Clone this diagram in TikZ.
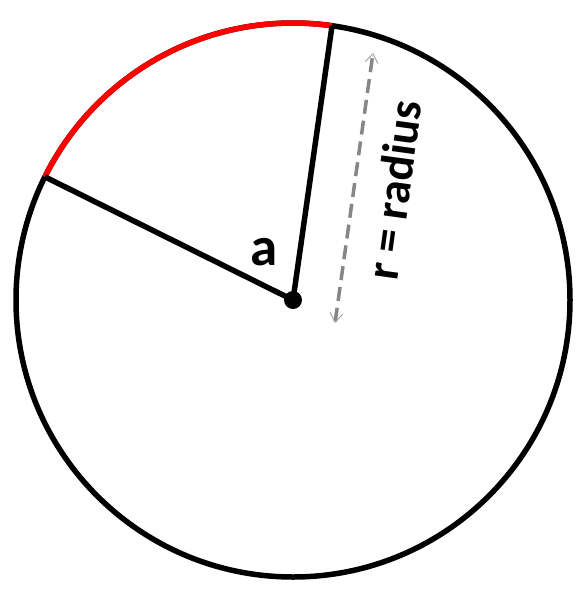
\documentclass[tikz,border=0pt]{standalone}
\usepackage{fontspec}
\setmainfont{Carlito}
\usetikzlibrary{arrows.meta,calc}
\begin{document}
\begin{tikzpicture}[x=1pt,y=-1pt,
  thick line/.style={line width=5.5pt,black},
  radarrow/.style={line width=3.5pt,gray!95,dash pattern=on 14pt off 7pt,
    {Straight Barb[length=9pt,width=13pt,line width=1pt,gray!70]}-{Straight Barb[length=9pt,width=13pt,line width=1pt,gray!70]}},
  lbl/.style={font=\fontsize{47}{54}\selectfont\bfseries},
  albl/.style={font=\fontsize{55}{60}\selectfont\bfseries}]
\useasboundingbox (0,0) rectangle (584,592);
\fill[white] (0,0) rectangle (584,592);
\coordinate (O) at (293,300);
\draw[thick line] (O) circle[radius=277];
\draw[line width=5.5pt,red] (O) ++(-81.9:277) arc[start angle=-81.9,end angle=-153.6,radius=277];
\coordinate (A) at ($(O)+(-81.9:277)$);
\coordinate (B) at ($(O)+(-153.6:277)$);
\draw[thick line] (B) -- (O) -- (A);
\fill (O) circle[radius=9];
\coordinate (P1) at (373,53);
\coordinate (P2) at (335,323);
\draw[radarrow] (P2) -- (P1);
\node[lbl,rotate=82.2,inner sep=0pt] (rlab) at (394,190) {r = radius};
\node[albl,inner sep=0pt] (alab) at (264,252) {a};
\end{tikzpicture}
\end{document}
